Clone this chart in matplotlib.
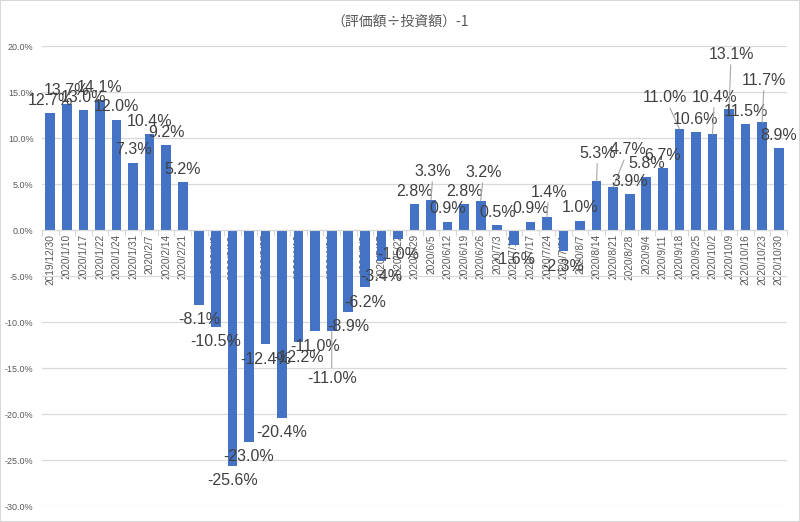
import matplotlib
matplotlib.use("Agg")
import matplotlib.pyplot as plt
from matplotlib.ticker import FixedLocator, FuncFormatter
from matplotlib.patches import Rectangle

dates = ["2019/12/30", "2020/1/10", "2020/1/17", "2020/1/22", "2020/1/24", "2020/1/31",
         "2020/2/7", "2020/2/14", "2020/2/21", "2020/2/28", "2020/3/6", "2020/3/13",
         "2020/3/20", "2020/3/27", "2020/4/3", "2020/4/10", "2020/4/17", "2020/4/24",
         "2020/5/1", "2020/5/8", "2020/5/15", "2020/5/22", "2020/5/29", "2020/6/5",
         "2020/6/12", "2020/6/19", "2020/6/26", "2020/7/3", "2020/7/10", "2020/7/17",
         "2020/7/24", "2020/7/31", "2020/8/7", "2020/8/14", "2020/8/21", "2020/8/28",
         "2020/9/4", "2020/9/11", "2020/9/18", "2020/9/25", "2020/10/2", "2020/10/9",
         "2020/10/16", "2020/10/23", "2020/10/30"]
returns_pct = [12.7, 13.7, 13.0, 14.1, 12.0, 7.3, 10.4, 9.2, 5.2, -8.1, -10.5, -25.6,
               -23.0, -12.4, -20.4, -12.2, -11.0, -11.0, -8.9, -6.2, -3.4, -1.0, 2.8, 3.3,
               0.9, 2.8, 3.2, 0.5, -1.6, 0.9, 1.4, -2.3, 1.0, 5.3, 4.7, 3.9, 5.8, 6.7,
               11.0, 10.6, 10.4, 13.1, 11.5, 11.7, 8.9]
title = "（評価額÷投資額）-1"

# manual label shifts (pixels, dx right, dy up) for labels dragged away with leader lines
label_shift = {17: (0, -47), 23: (2, 28), 26: (3, 28), 30: (2, 25), 33: (1, 28),
               34: (15, 37), 38: (-14, 31), 40: (2, 37), 41: (2, 55), 43: (2, 42)}

BAR = "#4472C4"
GRID = "#D9D9D9"
TXT = "#595959"
LBL = "#404040"
PX = 72 / 100  # pixels -> points at dpi 100

fig = plt.figure(figsize=(8, 5.22), dpi=100)
fig.patches.append(Rectangle((0, 0), 1, 1, transform=fig.transFigure, fill=False,
                             edgecolor=GRID, lw=1.5))
ax = fig.add_axes([42 / 800, 1 - 506 / 522, 745 / 800, 460 / 522])

x = list(range(len(dates)))
ax.bar(x, returns_pct, width=0.58, color=BAR, zorder=3)
ax.set_xlim(-0.5, len(dates) - 0.5)
ax.set_ylim(-30, 20)

ax.yaxis.set_major_locator(FixedLocator([-30, -25, -20, -15, -10, -5, 0, 5, 10, 15, 20]))
ax.yaxis.set_major_formatter(FuncFormatter(lambda v, p: f"{v:.1f}%"))
ax.grid(axis="y", color=GRID, lw=0.9, zorder=0)
ax.tick_params(axis="y", length=0, pad=6, labelsize=6.5, labelcolor=TXT)
for lab in ax.get_yticklabels():
    lab.set_fontfamily("Liberation Sans")

for s in ["top", "right", "left"]:
    ax.spines[s].set_visible(False)
ax.spines["bottom"].set_position(("data", 0))
ax.spines["bottom"].set_color(GRID)
ax.spines["bottom"].set_zorder(4)
ax.set_xticks(x)
ax.set_xticklabels(dates, rotation=90, fontsize=7.3, color=TXT, family="Liberation Sans")
ax.set_xticks([i - 0.5 for i in range(len(dates) + 1)], minor=True)
ax.tick_params(axis="x", which="major", length=0, pad=3)
ax.tick_params(axis="x", which="minor", length=4, color=GRID, width=0.8)

for i, v in enumerate(returns_pct):
    base_dy = 13 if v >= 0 else -15
    dx, dy = 0, base_dy
    arrow = None
    if i in label_shift:
        dx, dy = label_shift[i]
        arrow = dict(arrowstyle="-", color="#A6A6A6", lw=0.8, shrinkA=0, shrinkB=0)
    ax.annotate(f"{v:.1f}%", xy=(i, v), xytext=(dx * PX, dy * PX),
                textcoords="offset points", ha="center", va="center",
                fontsize=11.5, color=LBL, family="Liberation Sans",
                arrowprops=arrow, zorder=5, annotation_clip=False)

fig.text(0.5, 1 - 22 / 522, title, ha="center", va="center", fontsize=10, color=TXT,
         family=["Noto Sans CJK JP", "DejaVu Sans"])

fig.savefig("out.png", dpi=100, facecolor="white")
